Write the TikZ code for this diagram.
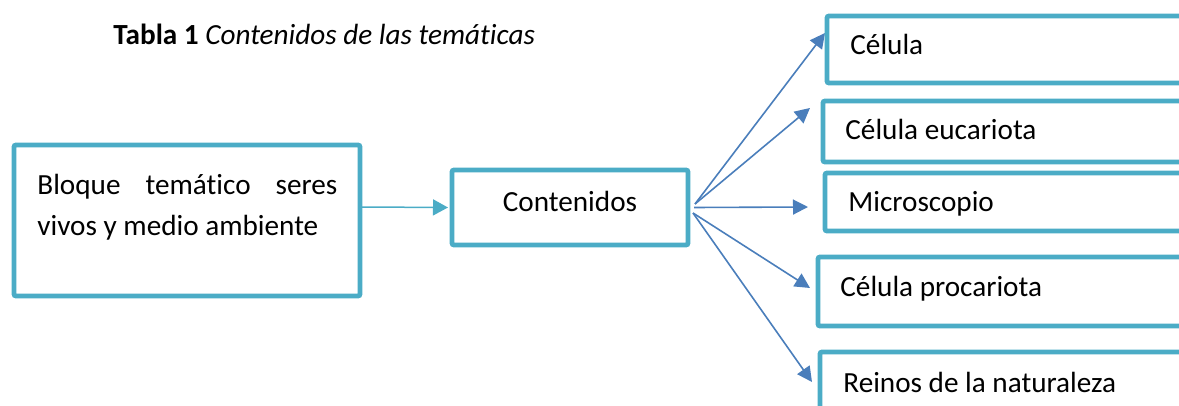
\documentclass[tikz,border=0pt]{standalone}
\usepackage{fontspec}
\setmainfont[Ligatures=NoCommon]{Carlito}
\usetikzlibrary{arrows.meta}
\pgfdeclarelayer{edgelayer}
\pgfdeclarelayer{nodelayer}
\pgfsetlayers{edgelayer,nodelayer,main}
\definecolor{boxcyan}{HTML}{4BACC6}
\definecolor{arrowblue}{HTML}{4A7EBB}
\tikzstyle{none}=[inner sep=0pt]
\tikzstyle{theme_box}=[rectangle,draw=boxcyan,fill=white,line width=2.4pt,rounded corners=1pt,outer sep=0pt,inner sep=0pt]
\tikzstyle{side_box}=[theme_box,anchor=west,minimum width=200pt]
\tikzstyle{link}=[-{Triangle[length=7.5pt,width=8pt]},draw=boxcyan,line width=0.75pt]
\tikzstyle{branch}=[-{Triangle[length=7.5pt,width=7.5pt]},draw=arrowblue,line width=0.8pt]

\begin{document}
\begin{tikzpicture}[x=0.5pt,y=-0.5pt,font=\fontsize{14.6pt}{20.5pt}\selectfont]
	\useasboundingbox (0,0) rectangle (1179,406);
	\begin{pgfonlayer}{nodelayer}
		\node [style={theme_box}, minimum width=173pt, minimum height=75.5pt] (0) at (187, 220.5) {};
		\node [style={theme_box}, minimum width=118pt, minimum height=37.5pt] (1) at (570, 207.5) {};
		\node [style={side_box}, minimum height=33.5pt] (2) at (827, 49.5) {};
		\node [style={side_box}, minimum height=30.5pt] (3) at (823, 131.5) {};
		\node [style={side_box}, minimum height=29pt] (4) at (825, 202) {};
		\node [style={side_box}, minimum height=34.5pt] (5) at (818, 291.5) {};
		\node [style={side_box}, minimum height=35pt] (6) at (820, 387) {};
		\node [style=none, anchor=base west] (7) at (113, 45) {\textbf{Tabla 1} \textit{Contenidos de las temáticas}};
		\node [style=none, anchor=base west] (8) at (37, 195) {\vtop{\hbox to 150pt{Bloque\hfill temático\hfill seres}\hbox{vivos y medio ambiente}}};
		\node [style=none, anchor=base] (9) at (570, 212) {Contenidos};
		\node [style=none, anchor=base west] (10) at (850, 55) {Célula};
		\node [style=none, anchor=base west] (11) at (845, 140) {Célula eucariota};
		\node [style=none, anchor=base west] (12) at (848, 212) {Microscopio};
		\node [style=none, anchor=base west] (13) at (840, 297) {Célula procariota};
		\node [style=none, anchor=base west] (14) at (843, 393) {Reinos de la naturaleza};
	\end{pgfonlayer}
	\begin{pgfonlayer}{edgelayer}
		\draw [style=link] ([yshift=6.75pt]0.east) to ([xshift=-2pt]1.west);
		\draw [style=branch] ([xshift=3.5pt,yshift=1.75pt]1.east) to ([xshift=-1pt,yshift=8.25pt]2.west);
		\draw [style=branch] ([xshift=3.5pt,yshift=1.75pt]1.east) to ([xshift=-6.5pt,yshift=11.75pt]3.west);
		\draw [style=branch] ([xshift=3pt]1.east) to ([xshift=-8.5pt,yshift=-2.5pt]4.west);
		\draw [style=branch] ([xshift=2.5pt,yshift=-2.75pt]1.east) to ([xshift=-4pt,yshift=1.75pt]5.west);
		\draw [style=branch] ([xshift=2.5pt,yshift=-2.75pt]1.east) to ([xshift=-4pt,yshift=2.5pt]6.west);
	\end{pgfonlayer}
\end{tikzpicture}
\end{document}
